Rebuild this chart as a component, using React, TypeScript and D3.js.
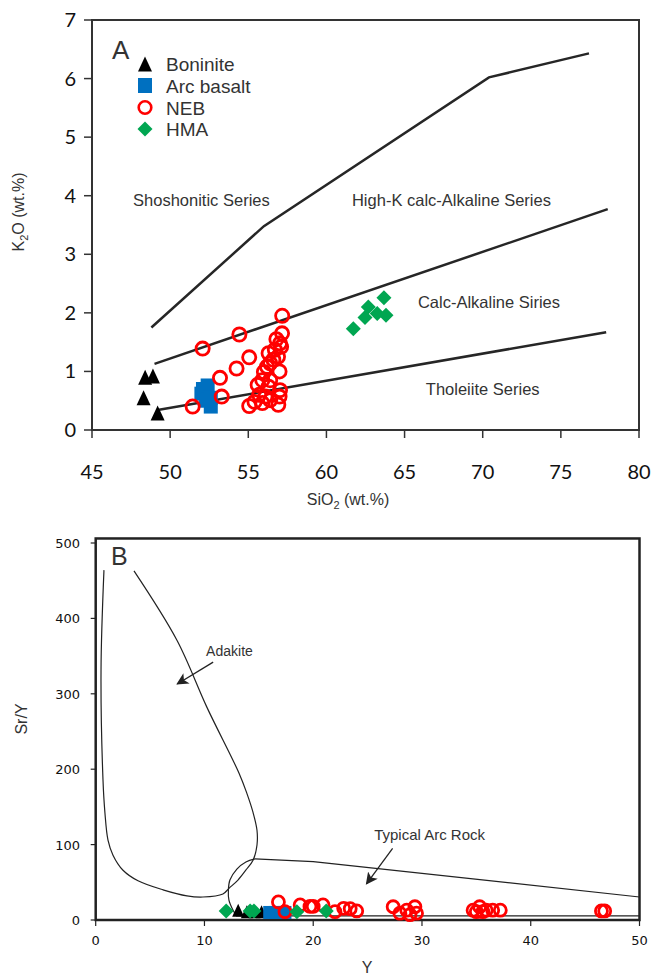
import * as d3 from 'd3';

// ---- panel A: K2O vs SiO2 ----
const xTicksA = [45, 50, 55, 60, 65, 70, 75, 80];
const yTicksA = [0, 1, 2, 3, 4, 5, 6, 7];

const boniniteA = [[48.4, 0.9], [48.9, 0.92], [48.3, 0.55], [49.2, 0.29]];
const arcBasaltA = [[52.0, 0.62], [52.1, 0.7], [52.4, 0.76], [52.6, 0.55], [52.6, 0.4], [52.3, 0.5]];
const nebA = [
  [57.17, 1.95], [54.43, 1.63], [52.08, 1.39], [55.06, 1.24], [54.25, 1.05], [53.19, 0.89],
  [53.3, 0.57], [51.44, 0.4], [55.06, 0.41], [56.92, 0.43], [57.03, 0.68], [57.16, 1.65],
  [57.03, 1.48], [56.7, 1.37], [56.3, 1.31], [56.2, 1.08], [56.0, 0.99], [56.4, 1.14],
  [57.0, 1.0], [55.9, 0.85], [56.4, 0.85], [55.6, 0.77], [56.3, 0.74], [55.7, 0.6],
  [56.1, 0.57], [56.4, 0.51], [55.4, 0.48], [55.9, 0.46], [57.0, 0.57], [56.8, 1.55],
  [57.1, 1.42], [56.9, 1.25], [56.6, 1.2],
];
const hmaA = [[61.72, 1.73], [62.47, 1.92], [62.68, 2.1], [63.25, 1.99], [63.68, 2.26], [63.81, 1.96]];

const shoshoniticLine = [[48.8, 1.75], [56.0, 3.48], [70.4, 6.02], [76.8, 6.43]];
const highKLine = [[49.0, 1.13], [78.0, 3.77]];
const tholeiiteLine = [[49.2, 0.34], [77.9, 1.67]];

const seriesLabels = [
  { text: 'Shoshonitic Series', x: 52.0, y: 3.83 },
  { text: 'High-K calc-Alkaline Series', x: 68.0, y: 3.83 },
  { text: 'Calc-Alkaline Siries', x: 70.4, y: 2.08 },
  { text: 'Tholeiite Series', x: 70.0, y: 0.6 },
];

const legendItems = ['Boninite', 'Arc basalt', 'NEB', 'HMA'];

// ---- panel B: Sr/Y vs Y ----
const xTicksB = [0, 10, 20, 30, 40, 50];
const yTicksB = [0, 100, 200, 300, 400, 500];

const boniniteB = [[13.1, 13], [13.9, 11], [14.6, 11], [15.25, 11]];
const arcBasaltB = [[16.0, 10], [16.5, 10], [17.0, 10], [17.4, 10]];
const nebB = [
  [16.8, 24], [17.4, 11], [18.8, 20], [19.7, 18], [20.0, 18], [20.9, 20], [22.0, 11],
  [22.8, 15.5], [23.4, 15], [24.0, 12], [27.35, 17.6], [27.97, 9], [28.6, 13], [29.35, 17.6],
  [29.5, 9], [28.9, 7], [34.7, 13], [35.3, 17.6], [35.6, 11], [35.9, 13], [36.5, 13],
  [37.2, 13], [35.0, 11], [46.5, 12], [46.8, 12],
];
const hmaB = [[12.0, 12], [14.2, 12], [14.55, 12], [18.5, 11], [21.2, 12]];

const adakiteField = [
  [0.76, 464], [0.49, 332], [0.67, 186], [0.85, 142], [1.13, 106], [1.59, 86], [2.51, 66],
  [3.89, 52], [6.19, 40], [8.39, 32], [9.86, 30.5], [11.7, 34.5], [12.25, 42], [13.08, 53],
  [13.8, 66], [14.48, 79.6], [14.83, 99.5], [14.83, 119], [14.46, 143], [13.9, 168],
  [13.17, 195], [10.23, 282], [7.47, 371], [3.52, 463],
];
const arcRockEdge = [
  [14.64, 81], [13.81, 77], [12.98, 67.6], [12.34, 53], [12.2, 39.8], [12.25, 26.5],
  [12.62, 13.3], [12.9, 6.6],
];
const arcRockTop = [[14.64, 81], [20.0, 77.5], [50, 30.5]];
const arcRockBase = [[12.9, 5.5], [50, 5.5]];

const RED = '#ff0000';
const BLUE = '#0070c0';
const GREEN = '#00a651';
const INK = '#333333';
const SANS = '"Liberation Sans", Arial, sans-serif';

const triangle = (w: number, h: number) => `M0,${-h / 2}L${w / 2},${h / 2}L${-w / 2},${h / 2}Z`;
const diamond = (d: number) => `M0,${-d / 2}L${d / 2},0L0,${d / 2}L${-d / 2},0Z`;

const App = () => {
  const xA = d3.scaleLinear().domain([45, 80]).range([92, 639]);
  const yA = d3.scaleLinear().domain([0, 7]).range([430, 20]);
  const xB = d3.scaleLinear().domain([0, 50]).range([95.7, 639.5]);
  const yB = d3.scaleLinear().domain([0, 500]).range([920, 543]);

  const lineA = d3.line<number[]>().x(d => xA(d[0])).y(d => yA(d[1]));
  const lineB = d3.line<number[]>().x(d => xB(d[0])).y(d => yB(d[1]));
  const smoothB = d3.line<number[]>().x(d => xB(d[0])).y(d => yB(d[1])).curve(d3.curveCatmullRom);

  const legendY = [64, 85.5, 107.5, 129];

  return (
    <svg width={651} height={977} style={{ position: 'absolute', left: 0, top: 0, background: '#fff' }}>
      <defs>
        <marker id="arrow" viewBox="0 0 10 10" refX="9" refY="5" markerWidth="12" markerHeight="12"
          markerUnits="userSpaceOnUse" orient="auto">
          <path d="M0,0L10,5L0,10L2.5,5Z" fill="#222" />
        </marker>
      </defs>

      {/* ================= panel A ================= */}
      <rect x={xA(45)} y={yA(7)} width={xA(80) - xA(45)} height={yA(0) - yA(7)}
        fill="none" stroke={INK} strokeWidth={2} />
      {yTicksA.map(t => (
        <g key={t}>
          <line x1={84} x2={xA(45)} y1={yA(t)} y2={yA(t)} stroke={INK} strokeWidth={1.5} />
          <text x={76} y={yA(t) + 7} textAnchor="end" fontFamily="Lato, sans-serif" fontSize={20} fill="#111">{t}</text>
        </g>
      ))}
      {xTicksA.map(t => (
        <g key={t}>
          <line x1={xA(t)} x2={xA(t)} y1={yA(0)} y2={yA(0) + 8} stroke={INK} strokeWidth={1.5} />
          <text x={xA(t)} y={479} textAnchor="middle" fontFamily="Lato, sans-serif" fontSize={20} fill="#111">{t}</text>
        </g>
      ))}
      <text transform="translate(24,212) rotate(-90)" textAnchor="middle" fontFamily={SANS} fontSize={16} fill={INK}>
        K<tspan fontSize={11} dy={4}>2</tspan><tspan dy={-4}>O (wt.%)</tspan>
      </text>
      <text x={348} y={505} textAnchor="middle" fontFamily={SANS} fontSize={16} fill={INK}>
        SiO<tspan fontSize={11} dy={4}>2</tspan><tspan dy={-4}> (wt.%)</tspan>
      </text>

      {[shoshoniticLine, highKLine, tholeiiteLine].map((l, i) => (
        <path key={i} d={lineA(l) ?? ''} fill="none" stroke="#262626" strokeWidth={2.5} />
      ))}
      {seriesLabels.map(s => (
        <text key={s.text} x={xA(s.x)} y={yA(s.y)} textAnchor="middle" fontFamily={SANS} fontSize={16.5} fill={INK}>{s.text}</text>
      ))}

      <text x={112} y={59} fontFamily={SANS} fontSize={26} fill={INK}>A</text>
      <path d={triangle(14, 15)} transform={`translate(145,${legendY[0]})`} fill="#000" />
      <rect x={138} y={legendY[1] - 7.5} width={14} height={15} fill={BLUE} />
      <circle cx={145} cy={legendY[2]} r={6.3} fill="none" stroke={RED} strokeWidth={2.6} />
      <path d={diamond(15)} transform={`translate(145,${legendY[3]})`} fill={GREEN} />
      {legendItems.map((t, i) => (
        <text key={t} x={166} y={legendY[i] + 7} fontFamily={SANS} fontSize={19} fill={INK}>{t}</text>
      ))}

      {boniniteA.map((d, i) => (
        <path key={i} d={triangle(14, 15)} transform={`translate(${xA(d[0])},${yA(d[1])})`} fill="#000" />
      ))}
      {arcBasaltA.map((d, i) => (
        <rect key={i} x={xA(d[0]) - 7} y={yA(d[1]) - 7} width={14} height={14} fill={BLUE} />
      ))}
      {nebA.map((d, i) => (
        <circle key={i} cx={xA(d[0])} cy={yA(d[1])} r={6.6} fill="none" stroke={RED} strokeWidth={2.8} />
      ))}
      {hmaA.map((d, i) => (
        <path key={i} d={diamond(15)} transform={`translate(${xA(d[0])},${yA(d[1])})`} fill={GREEN} />
      ))}

      {/* ================= panel B ================= */}
      <rect x={xB(0)} y={yB(506)} width={xB(50) - xB(0)} height={yB(0) - yB(506)}
        fill="none" stroke="#222" strokeWidth={2.5} />
      {yTicksB.map(t => (
        <g key={t}>
          <line x1={xB(0) - 5} x2={xB(0)} y1={yB(t)} y2={yB(t)} stroke="#222" strokeWidth={1.2} />
          <text x={80} y={yB(t) + 5} textAnchor="end" fontFamily="DejaVu Sans, sans-serif" fontSize={13} fill="#111">{t}</text>
        </g>
      ))}
      {xTicksB.map(t => (
        <g key={t}>
          <line x1={xB(t)} x2={xB(t)} y1={yB(0)} y2={yB(0) + 6} stroke="#222" strokeWidth={1.2} />
          <text x={xB(t)} y={945} textAnchor="middle" fontFamily="DejaVu Sans, sans-serif" fontSize={13} fill="#111">{t}</text>
        </g>
      ))}
      <text transform="translate(27,719) rotate(-90)" textAnchor="middle" fontFamily={SANS} fontSize={16} fill={INK}>Sr/Y</text>
      <text x={367} y={973} textAnchor="middle" fontFamily={SANS} fontSize={16} fill={INK}>Y</text>
      <text x={111} y={565} fontFamily={SANS} fontSize={25} fill={INK}>B</text>

      <path d={smoothB(adakiteField) ?? ''} fill="none" stroke="#222" strokeWidth={1.2} />
      <path d={smoothB(arcRockEdge) ?? ''} fill="none" stroke="#222" strokeWidth={1.2} />
      <path d={lineB(arcRockTop) ?? ''} fill="none" stroke="#222" strokeWidth={1.2} />
      <path d={lineB(arcRockBase) ?? ''} fill="none" stroke="#222" strokeWidth={1.2} />

      <text x={xB(12.3)} y={yB(350)} textAnchor="middle" fontFamily={SANS} fontSize={14} fill={INK}>Adakite</text>
      <line x1={xB(10.8)} y1={yB(342)} x2={xB(7.5)} y2={yB(313)} stroke="#222" strokeWidth={1.3} markerEnd="url(#arrow)" />
      <text x={xB(30.7)} y={yB(106)} textAnchor="middle" fontFamily={SANS} fontSize={15} fill={INK}>Typical Arc Rock</text>
      <line x1={xB(27.3)} y1={yB(95)} x2={xB(24.9)} y2={yB(48)} stroke="#222" strokeWidth={1.3} markerEnd="url(#arrow)" />

      {boniniteB.map((d, i) => (
        <path key={i} d={triangle(12, 13)} transform={`translate(${xB(d[0])},${yB(d[1])})`} fill="#000" />
      ))}
      {arcBasaltB.map((d, i) => (
        <rect key={i} x={xB(d[0]) - 6.5} y={yB(d[1]) - 6.5} width={13} height={13} fill={BLUE} />
      ))}
      {nebB.map((d, i) => (
        <circle key={i} cx={xB(d[0])} cy={yB(d[1])} r={6} fill="none" stroke={RED} strokeWidth={2.8} />
      ))}
      {hmaB.map((d, i) => (
        <path key={i} d={diamond(15)} transform={`translate(${xB(d[0])},${yB(d[1])})`} fill={GREEN} />
      ))}
    </svg>
  );
};

export default App;
